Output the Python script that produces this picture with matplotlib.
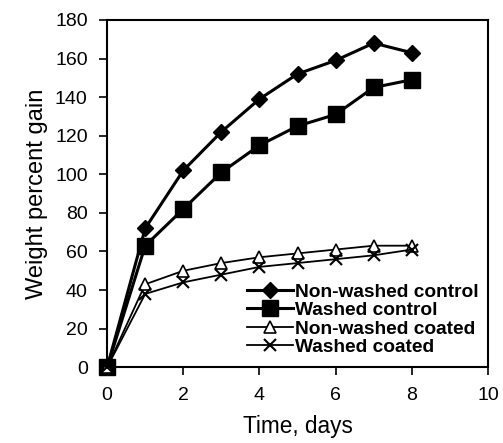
import matplotlib
matplotlib.use("Agg")
import matplotlib.pyplot as plt

days = [0, 1, 2, 3, 4, 5, 6, 7, 8]
nonwashed_control = [0, 72, 102, 122, 139, 152, 159, 168, 163]
washed_control = [0, 63, 82, 101, 115, 125, 131, 145, 149]
nonwashed_coated = [0, 43, 50, 54, 57, 59, 61, 63, 63]
washed_coated = [0, 38, 44, 48, 52, 54, 56, 58, 61]
labels = ["Non-washed control", "Washed control", "Non-washed coated", "Washed coated"]

plt.rcParams['font.family'] = ['Liberation Sans', 'DejaVu Sans']

fig = plt.figure(figsize=(5.03, 4.43), dpi=100)
ax = fig.add_axes([0.213, 0.171, 0.757, 0.784])

ax.plot(days, nonwashed_control, color='black', lw=2.2, marker='D', ms=8, mfc='black', label=labels[0], clip_on=False)
ax.plot(days, washed_control, color='black', lw=2.2, marker='s', ms=11, mfc='black', label=labels[1], clip_on=False)
ax.plot(days, nonwashed_coated, color='black', lw=1.3, marker='^', ms=9, mfc='white', mew=1.2, label=labels[2], clip_on=False)
ax.plot(days, washed_coated, color='black', lw=1.3, marker='x', ms=9, mew=1.5, label=labels[3], clip_on=False)

ax.set_xlim(0, 10)
ax.set_ylim(0, 180)
ax.set_xticks(range(0, 11, 2))
ax.set_yticks(range(0, 181, 20))
ax.tick_params(direction='out', length=6, width=1.2, labelsize=14, pad=8)
for s in ax.spines.values():
    s.set_linewidth(1.5)
ax.set_xlabel("Time, days", fontsize=16.3, labelpad=8)
ax.set_ylabel("Weight percent gain", fontsize=17, labelpad=5)

leg = ax.legend(loc='lower right', bbox_to_anchor=(1.0, 0.005), frameon=False,
                prop={'weight': 'bold', 'size': 13.8}, handlelength=2.4,
                handletextpad=0.1, labelspacing=0.05, borderaxespad=0.1)

fig.savefig("out.png", dpi=100)
